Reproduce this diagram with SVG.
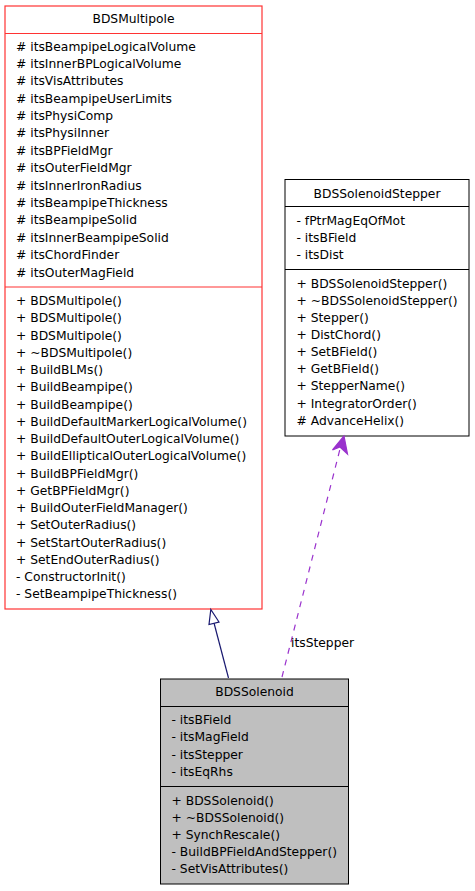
<svg xmlns="http://www.w3.org/2000/svg" width="475" height="891" viewBox="0 0 475 891">
<style>
text{font-family:"DejaVu Sans",sans-serif;font-size:12.3px;fill:#000}
.t{text-anchor:middle}
.box{fill:#fff;stroke:#000;stroke-width:1}
.red{fill:#fff;stroke:#ff3333;stroke-width:1.2}
.gray{fill:#bfbfbf;stroke:#000;stroke-width:1}
</style>
<rect width="475" height="891" fill="#fff"/>
<g id="BDSMultipole">
<rect class="red" x="5" y="6" width="257" height="603"/>
<line x1="5" y1="33.5" x2="262" y2="33.5" stroke="#ff3333" stroke-width="1.2"/>
<line x1="5" y1="287" x2="262" y2="287" stroke="#ff3333" stroke-width="1.2"/>
<text class="t" x="133.5" y="22.5">BDSMultipole</text>
<text x="16" y="50.5">
<tspan x="16" y="50.5"># itsBeampipeLogicalVolume</tspan>
<tspan x="16" y="67.9"># itsInnerBPLogicalVolume</tspan>
<tspan x="16" y="85.3"># itsVisAttributes</tspan>
<tspan x="16" y="102.6"># itsBeampipeUserLimits</tspan>
<tspan x="16" y="120"># itsPhysiComp</tspan>
<tspan x="16" y="137.4"># itsPhysiInner</tspan>
<tspan x="16" y="154.8"># itsBPFieldMgr</tspan>
<tspan x="16" y="172.2"># itsOuterFieldMgr</tspan>
<tspan x="16" y="189.5"># itsInnerIronRadius</tspan>
<tspan x="16" y="206.9"># itsBeampipeThickness</tspan>
<tspan x="16" y="224.3"># itsBeampipeSolid</tspan>
<tspan x="16" y="241.7"># itsInnerBeampipeSolid</tspan>
<tspan x="16" y="259.1"># itsChordFinder</tspan>
<tspan x="16" y="276.5"># itsOuterMagField</tspan>
</text>
<text x="16" y="305">
<tspan x="16" y="305">+ BDSMultipole()</tspan>
<tspan x="16" y="322.2">+ BDSMultipole()</tspan>
<tspan x="16" y="339.5">+ BDSMultipole()</tspan>
<tspan x="16" y="356.7">+ ~BDSMultipole()</tspan>
<tspan x="16" y="374">+ BuildBLMs()</tspan>
<tspan x="16" y="391.2">+ BuildBeampipe()</tspan>
<tspan x="16" y="408.5">+ BuildBeampipe()</tspan>
<tspan x="16" y="425.7">+ BuildDefaultMarkerLogicalVolume()</tspan>
<tspan x="16" y="443">+ BuildDefaultOuterLogicalVolume()</tspan>
<tspan x="16" y="460.2">+ BuildEllipticalOuterLogicalVolume()</tspan>
<tspan x="16" y="477.5">+ BuildBPFieldMgr()</tspan>
<tspan x="16" y="494.7">+ GetBPFieldMgr()</tspan>
<tspan x="16" y="512">+ BuildOuterFieldManager()</tspan>
<tspan x="16" y="529.2">+ SetOuterRadius()</tspan>
<tspan x="16" y="546.5">+ SetStartOuterRadius()</tspan>
<tspan x="16" y="563.7">+ SetEndOuterRadius()</tspan>
<tspan x="16" y="581">- ConstructorInit()</tspan>
<tspan x="16" y="598.2">- SetBeampipeThickness()</tspan>
</text>
</g>
<g id="BDSSolenoidStepper">
<rect class="box" x="285" y="179.5" width="184" height="256.5"/>
<line x1="285" y1="206.5" x2="469" y2="206.5" stroke="#000"/>
<line x1="285" y1="269.5" x2="469" y2="269.5" stroke="#000"/>
<text class="t" x="377" y="197.5">BDSSolenoidStepper</text>
<text x="296.5" y="225">
<tspan x="296.5" y="225">- fPtrMagEqOfMot</tspan>
<tspan x="296.5" y="242">- itsBField</tspan>
<tspan x="296.5" y="258.8">- itsDist</tspan>
</text>
<text x="296.5" y="287.8">
<tspan x="296.5" y="287.8">+ BDSSolenoidStepper()</tspan>
<tspan x="296.5" y="304.9">+ ~BDSSolenoidStepper()</tspan>
<tspan x="296.5" y="322">+ Stepper()</tspan>
<tspan x="296.5" y="339.1">+ DistChord()</tspan>
<tspan x="296.5" y="356.2">+ SetBField()</tspan>
<tspan x="296.5" y="373.3">+ GetBField()</tspan>
<tspan x="296.5" y="390.4">+ StepperName()</tspan>
<tspan x="296.5" y="407.5">+ IntegratorOrder()</tspan>
<tspan x="296.5" y="424.5"># AdvanceHelix()</tspan>
</text>
</g>
<g id="BDSSolenoid">
<rect class="gray" x="160.5" y="679" width="188" height="205"/>
<line x1="160.5" y1="706.5" x2="348.5" y2="706.5" stroke="#000"/>
<line x1="160.5" y1="786.5" x2="348.5" y2="786.5" stroke="#000"/>
<text class="t" x="254.5" y="695.5">BDSSolenoid</text>
<text x="171.5" y="723.5">
<tspan x="171.5" y="723.5">- itsBField</tspan>
<tspan x="171.5" y="741">- itsMagField</tspan>
<tspan x="171.5" y="758.5">- itsStepper</tspan>
<tspan x="171.5" y="776">- itsEqRhs</tspan>
</text>
<text x="171.5" y="804.5">
<tspan x="171.5" y="804.5">+ BDSSolenoid()</tspan>
<tspan x="171.5" y="821.5">+ ~BDSSolenoid()</tspan>
<tspan x="171.5" y="838.7">+ SynchRescale()</tspan>
<tspan x="171.5" y="855.8">- BuildBPFieldAndStepper()</tspan>
<tspan x="171.5" y="872.8">- SetVisAttributes()</tspan>
</text>
</g>
<g id="connectors">
<line x1="228.5" y1="678" x2="214" y2="623" stroke="#191970" stroke-width="1.2"/>
<polygon points="210.8,609.5 209,624.5 219,622" fill="#fff" stroke="#191970" stroke-width="1.2"/>
<line x1="282" y1="677" x2="340" y2="449" stroke="#9a32cd" stroke-width="1.2" stroke-dasharray="6,6"/>
<polygon points="344,436 332.5,450 340,447 347.5,454" fill="#9a32cd" stroke="#9a32cd" stroke-width="1.2"/>
<text x="291" y="646.5">itsStepper</text>
</g>
</svg>
